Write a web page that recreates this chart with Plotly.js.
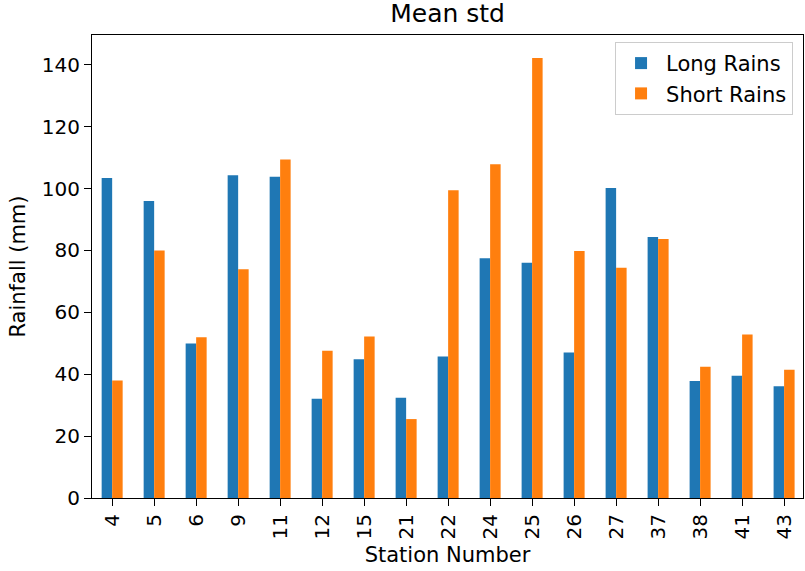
<!DOCTYPE html>
<html>
<head>
<meta charset="utf-8">
<script src="https://cdn.plot.ly/plotly-3.0.1.min.js"></script>
<style>html,body{margin:0;padding:0;background:#fff;}#chart{width:805px;height:571px;}</style>
</head>
<body>
<div id="chart"></div>
<script>
const stations = ["4","5","6","9","11","12","15","21","22","24","25","26","27","37","38","41","43"];
const longRains = [103.4, 96.0, 49.9, 104.3, 103.8, 32.1, 44.8, 32.4, 45.7, 77.5, 76.0, 47.0, 100.2, 84.3, 37.8, 39.5, 36.1];
const shortRains = [38.0, 80.0, 51.9, 73.9, 109.4, 47.6, 52.2, 25.5, 99.4, 107.8, 142.2, 79.8, 74.4, 83.7, 42.4, 52.8, 41.4];

const font = "DejaVu Sans, sans-serif";
const data = [
  {type:"bar", name:"Long Rains", x:stations, y:longRains, marker:{color:"#1f77b4"}},
  {type:"bar", name:"Short Rains", x:stations, y:shortRains, marker:{color:"#ff7f0e"}}
];
const layout = {
  width:805, height:571,
  margin:{l:92, r:2, t:35, b:73},
  paper_bgcolor:"#fff", plot_bgcolor:"#fff",
  font:{family:font, size:20, color:"#000"},
  title:{text:"Mean std", font:{family:font, size:25, color:"#000"}, x:0.556, xanchor:"center", y:0.977, yanchor:"middle"},
  barmode:"group", bargap:0.5, bargroupgap:0,
  showlegend:true,
  legend:{x:0.986, y:0.985, xanchor:"right", yanchor:"top", bordercolor:"#ccc", borderwidth:1, bgcolor:"rgba(255,255,255,0.8)", font:{family:font, size:21}, itemwidth:40},
  xaxis:{
    type:"category", range:[-0.48, 16.45], tickangle:-90,
    showline:true, linecolor:"#000", linewidth:1, mirror:true,
    ticks:"outside", ticklen:7, tickcolor:"#000", showgrid:false, zeroline:false,
    tickfont:{family:font, size:20},
    title:{text:"Station Number", font:{family:font, size:21}, standoff:8}
  },
  yaxis:{
    range:[0, 149.6], dtick:20,
    showline:true, linecolor:"#000", linewidth:1, mirror:true,
    ticks:"outside", ticklen:7, tickcolor:"#000", showgrid:false, zeroline:false,
    tickfont:{family:font, size:20},
    title:{text:"Rainfall (mm)", font:{family:font, size:21}, standoff:10}
  }
};
Plotly.newPlot("chart", data, layout, {displayModeBar:false, staticPlot:true});
</script>
</body>
</html>
